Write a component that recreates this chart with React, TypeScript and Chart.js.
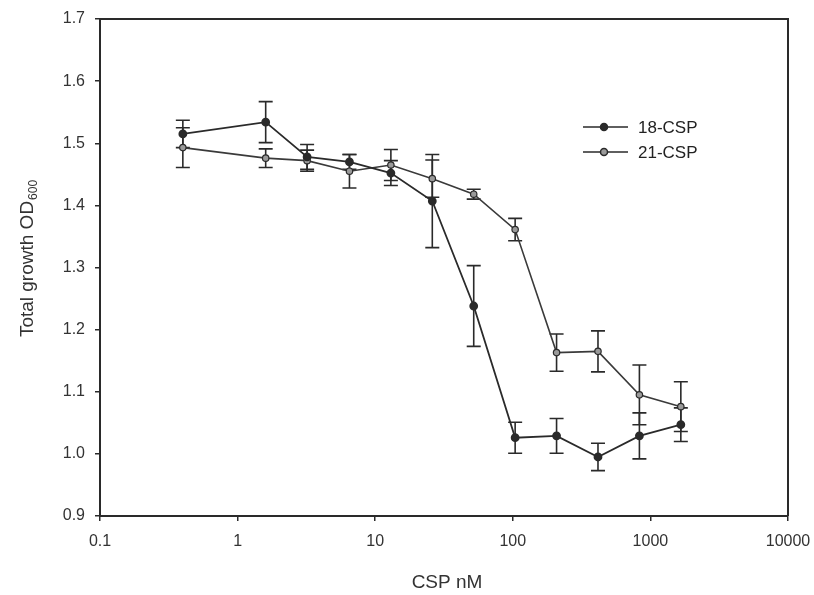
import React, { useEffect, useRef } from "react";
import { Chart, registerables } from "chart.js";

Chart.register(...registerables);

const concentrations = [0.4, 1.6, 3.2, 6.5, 13, 26, 52, 104, 208, 416, 832, 1664];
const csp18 = [1.515, 1.534, 1.478, 1.470, 1.452, 1.407, 1.238, 1.026, 1.029, 0.995, 1.029, 1.047];
const csp18Err = [0.022, 0.033, 0.02, 0.012, 0.02, 0.075, 0.065, 0.025, 0.028, 0.022, 0.037, 0.027];
const csp21 = [1.493, 1.476, 1.472, 1.455, 1.465, 1.443, 1.418, 1.361, 1.163, 1.165, 1.095, 1.076];
const csp21Err = [0.032, 0.015, 0.017, 0.027, 0.025, 0.03, 0.008, 0.018, 0.03, 0.033, 0.048, 0.04];
const xTicks = [0.1, 1, 10, 100, 1000, 10000];
const seriesNames = ["18-CSP", "21-CSP"];

const INK = "#2a2a2a";
const FONT = "Liberation Sans, Arial, sans-serif";

const errorBarPlugin = {
  id: "errorBars",
  beforeDatasetsDraw(chart: any) {
    const { ctx, scales } = chart;
    const x = scales.x;
    const y = scales.y;
    const sets = [
      { v: csp18, e: csp18Err },
      { v: csp21, e: csp21Err },
    ];
    ctx.save();
    ctx.strokeStyle = INK;
    ctx.lineWidth = 1.6;
    sets.forEach((s) => {
      concentrations.forEach((c, i) => {
        const px = x.getPixelForValue(c);
        const top = y.getPixelForValue(s.v[i] + s.e[i]);
        const bot = y.getPixelForValue(s.v[i] - s.e[i]);
        ctx.beginPath();
        ctx.moveTo(px, top);
        ctx.lineTo(px, bot);
        ctx.moveTo(px - 7, top);
        ctx.lineTo(px + 7, top);
        ctx.moveTo(px - 7, bot);
        ctx.lineTo(px + 7, bot);
        ctx.stroke();
      });
    });
    ctx.restore();
  },
};

const decorPlugin = {
  id: "decor",
  afterDraw(chart: any) {
    const { ctx, chartArea } = chart;
    const { left, right, top, bottom } = chartArea;
    ctx.save();
    ctx.strokeStyle = INK;
    ctx.lineWidth = 2;
    ctx.beginPath();
    ctx.moveTo(left, top);
    ctx.lineTo(right, top);
    ctx.lineTo(right, bottom);
    ctx.stroke();

    // y axis title with subscript
    ctx.fillStyle = "#333";
    ctx.translate(28, 259);
    ctx.rotate(-Math.PI / 2);
    const main = "Total growth OD";
    ctx.font = `19px ${FONT}`;
    const w1 = ctx.measureText(main).width;
    ctx.font = `12px ${FONT}`;
    const w2 = ctx.measureText("600").width;
    const start = -(w1 + w2) / 2;
    ctx.textBaseline = "middle";
    ctx.textAlign = "left";
    ctx.font = `19px ${FONT}`;
    ctx.fillText(main, start, 0);
    ctx.font = `12px ${FONT}`;
    ctx.fillText("600", start + w1 + 1, 6);
    ctx.restore();

    ctx.save();
    ctx.fillStyle = "#333";
    ctx.font = `19px ${FONT}`;
    ctx.textAlign = "center";
    ctx.textBaseline = "middle";
    ctx.fillText("CSP nM", 447, 583);

    // legend
    const rows = [
      { name: seriesNames[0], y: 127, fill: INK },
      { name: seriesNames[1], y: 152, fill: "#9a9a9a" },
    ];
    rows.forEach((r) => {
      ctx.strokeStyle = INK;
      ctx.lineWidth = 1.5;
      ctx.beginPath();
      ctx.moveTo(583, r.y);
      ctx.lineTo(628, r.y);
      ctx.stroke();
      ctx.beginPath();
      ctx.arc(604, r.y, 3.5, 0, Math.PI * 2);
      ctx.fillStyle = r.fill;
      ctx.fill();
      ctx.stroke();
      ctx.fillStyle = "#222";
      ctx.font = `17px ${FONT}`;
      ctx.textAlign = "left";
      ctx.fillText(r.name, 638, r.y + 1);
    });
    ctx.restore();
  },
};

export default function App() {
  const ref = useRef<HTMLCanvasElement | null>(null);
  useEffect(() => {
    if (!ref.current) return;
    const chart = new Chart(ref.current, {
      type: "line",
      data: {
        datasets: [
          {
            label: seriesNames[0],
            data: concentrations.map((c, i) => ({ x: c, y: csp18[i] })),
            borderColor: INK,
            borderWidth: 1.8,
            pointRadius: 3.5,
            pointBackgroundColor: INK,
            pointBorderColor: INK,
            tension: 0,
          },
          {
            label: seriesNames[1],
            data: concentrations.map((c, i) => ({ x: c, y: csp21[i] })),
            borderColor: "#3a3a3a",
            borderWidth: 1.6,
            pointRadius: 3.2,
            pointBackgroundColor: "#9a9a9a",
            pointBorderColor: INK,
            pointBorderWidth: 1.2,
            tension: 0,
          },
        ],
      },
      options: {
        animation: false,
        responsive: false,
        maintainAspectRatio: false,
        layout: { padding: { top: 19, right: 26, left: 0, bottom: 0 } },
        plugins: { legend: { display: false }, tooltip: { enabled: false } },
        scales: {
          x: {
            type: "logarithmic",
            min: 0.1,
            max: 10000,
            afterBuildTicks: (scale: any) => {
              scale.ticks = xTicks.map((v) => ({ value: v }));
            },
            afterFit: (scale: any) => {
              scale.height = 79;
              scale.paddingLeft = 0;
              scale.paddingRight = 0;
            },
            ticks: {
              color: "#333",
              font: { family: FONT, size: 16 },
              padding: 11,
              maxRotation: 0,
              autoSkip: false,
              callback: (v: any) => String(v),
            },
            grid: {
              display: true,
              drawOnChartArea: false,
              drawTicks: true,
              tickLength: 5,
              color: INK,
              lineWidth: 1.5,
            },
            border: { display: true, color: INK, width: 2 },
          },
          y: {
            min: 0.9,
            max: 1.7,
            afterFit: (scale: any) => {
              scale.width = 100;
              scale.paddingTop = 0;
              scale.paddingBottom = 0;
            },
            ticks: {
              stepSize: 0.1,
              color: "#333",
              font: { family: FONT, size: 16 },
              padding: 10,
              callback: (v: any) => Number(v).toFixed(1),
            },
            grid: {
              display: true,
              drawOnChartArea: false,
              drawTicks: true,
              tickLength: 5,
              color: INK,
              lineWidth: 1.5,
            },
            border: { display: true, color: INK, width: 2 },
          },
        },
      },
      plugins: [errorBarPlugin, decorPlugin],
    });
    return () => chart.destroy();
  }, []);
  return (
    <div style={{ position: "fixed", left: 0, top: 0, width: 814, height: 595, background: "#fff" }}>
      <canvas ref={ref} width={814} height={595} style={{ width: 814, height: 595 }} />
    </div>
  );
}
